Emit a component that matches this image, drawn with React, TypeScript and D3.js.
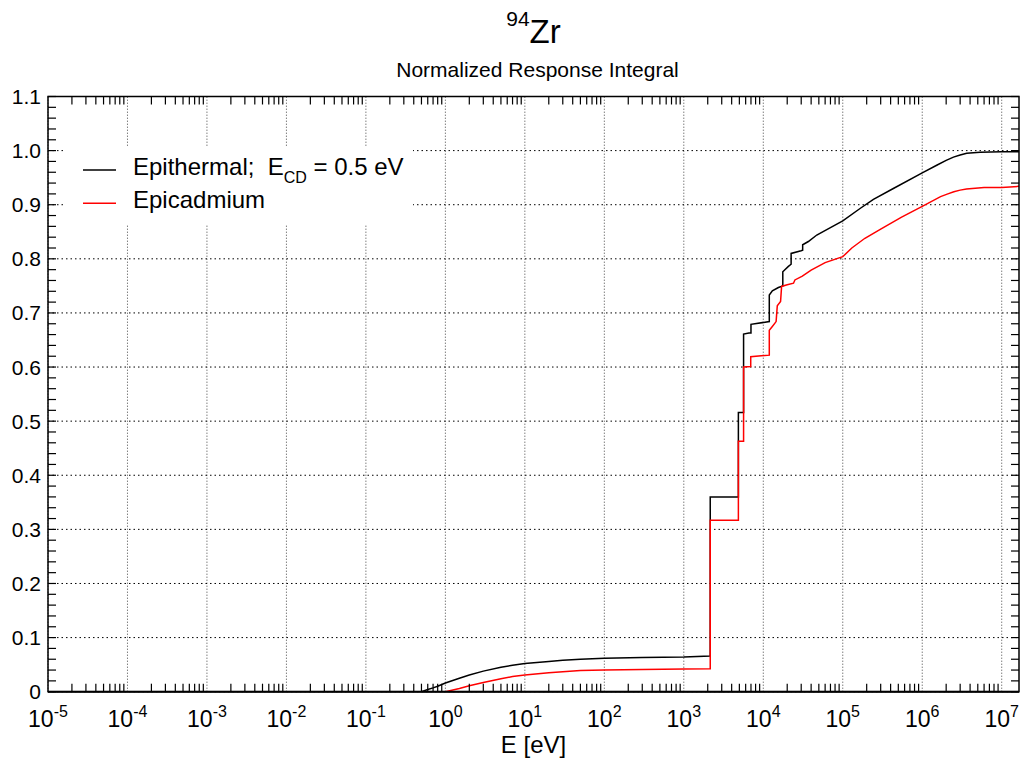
import React from "react";
import * as d3 from "d3";

// ---- data ----
const epithermalE = [0.5, 0.6, 0.7, 0.8, 1, 1.5, 2, 3, 5, 7, 10, 20, 30, 50, 100, 300, 1000, 2150, 2150, 4860, 4860, 5650, 5650, 6600, 7000, 7000, 11900, 11900, 13000, 15500, 17600, 17600, 20700, 22400, 22400, 29900, 31300, 31300, 36900, 47100, 62900, 100000, 165000, 243000, 433000, 1000000, 1520000, 2000000, 2470000, 3000000, 3630000, 5340000, 10000000, 16500000];
const epithermalR = [0, 0.004, 0.007, 0.010, 0.016, 0.025, 0.031, 0.038, 0.045, 0.049, 0.052, 0.056, 0.058, 0.060, 0.062, 0.063, 0.064, 0.066, 0.360, 0.360, 0.516, 0.516, 0.661, 0.663, 0.663, 0.679, 0.684, 0.733, 0.741, 0.747, 0.750, 0.776, 0.786, 0.790, 0.810, 0.815, 0.816, 0.826, 0.832, 0.844, 0.854, 0.870, 0.893, 0.910, 0.930, 0.959, 0.973, 0.982, 0.988, 0.992, 0.995, 0.997, 0.998, 0.998];

const epicadmiumE = [1, 1.5, 2, 3, 5, 7, 10, 20, 30, 50, 100, 300, 1000, 2150, 2150, 4860, 4860, 5650, 5650, 6950, 6950, 11900, 11900, 13000, 14500, 15000, 16500, 17000, 20000, 24000, 25000, 31000, 40000, 60000, 100000, 130000, 190000, 300000, 550000, 1000000, 1700000, 2100000, 2500000, 3000000, 3600000, 6000000, 10000000, 16500000];
const epicadmiumR = [0, 0.006, 0.011, 0.017, 0.024, 0.028, 0.031, 0.035, 0.037, 0.039, 0.040, 0.041, 0.042, 0.0425, 0.317, 0.317, 0.463, 0.463, 0.600, 0.601, 0.619, 0.622, 0.668, 0.675, 0.684, 0.713, 0.721, 0.749, 0.752, 0.755, 0.761, 0.768, 0.779, 0.793, 0.804, 0.820, 0.838, 0.855, 0.877, 0.897, 0.915, 0.920, 0.924, 0.927, 0.929, 0.932, 0.932, 0.934];

const xExponents = [-5, -4, -3, -2, -1, 0, 1, 2, 3, 4, 5, 6, 7];
const yTicks = [0, 0.1, 0.2, 0.3, 0.4, 0.5, 0.6, 0.7, 0.8, 0.9, 1.0, 1.1];
const yTickLabels = ["0", "0.1", "0.2", "0.3", "0.4", "0.5", "0.6", "0.7", "0.8", "0.9", "1.0", "1.1"];

const FONT = "'Liberation Sans', Arial, Helvetica, sans-serif";

export default function App() {
  const W = 1021, H = 765;
  const L = 48, R = 1019, T = 96.5, B = 691.7;
  const x = d3.scaleLog().domain([1e-5, 1.65e7]).range([L, R]);
  const y = d3.scaleLinear().domain([0, 1.1]).range([B, T]);

  const line = d3
    .line<[number, number]>()
    .x((d) => x(d[0]))
    .y((d) => y(d[1]));

  const epiPts = epithermalE.map((e, i) => [e, epithermalR[i]] as [number, number]);
  const cdPts = epicadmiumE.map((e, i) => [e, epicadmiumR[i]] as [number, number]);

  const minorX: number[] = [];
  for (const p of xExponents) {
    for (let k = 2; k <= 9; k++) {
      const v = k * Math.pow(10, p);
      if (v < 1.65e7) minorX.push(v);
    }
  }
  const minorY: number[] = d3.range(0, 56).map((i) => i * 0.02).filter((v) => v <= 1.1001);

  const tickLen = 8;

  return (
    <svg
      width={W}
      height={H}
      style={{ position: "absolute", left: 0, top: 0, background: "#fff" }}
      fontFamily={FONT}
    >
      <rect x={0} y={0} width={W} height={H} fill="#fff" />
      <defs>
        <clipPath id="plot">
          <rect x={L} y={T} width={R - L} height={B - T} />
        </clipPath>
      </defs>

      {/* grid */}
      <g>
        {xExponents.map((p) => (
          <line
            key={"gx" + p}
            x1={x(Math.pow(10, p))}
            x2={x(Math.pow(10, p))}
            y1={B}
            y2={T}
            stroke="#444"
            strokeWidth={1}
            strokeDasharray="1,2"
          />
        ))}
        {yTicks.map((v) => (
          <line
            key={"gy" + v}
            x1={L}
            x2={R}
            y1={y(v)}
            y2={y(v)}
            stroke="#000"
            strokeWidth={1}
            strokeDasharray="1.5,3"
          />
        ))}
      </g>

      {/* legend background */}
      <rect x={66} y={146} width={347} height={78} fill="#fff" />

      {/* data */}
      <g clipPath="url(#plot)" fill="none" strokeWidth={1.5} strokeLinejoin="miter">
        <path d={line(epiPts) || ""} stroke="#000" />
        <path d={line(cdPts) || ""} stroke="#ff0000" />
      </g>

      {/* ticks */}
      <g stroke="#000" strokeWidth={1.2}>
        {minorX.map((v, i) => (
          <g key={"mx" + i}>
            <line x1={x(v)} x2={x(v)} y1={B} y2={B - tickLen} />
            <line x1={x(v)} x2={x(v)} y1={T} y2={T + tickLen} />
          </g>
        ))}
        {minorY.map((v, i) => (
          <g key={"my" + i}>
            <line x1={L} x2={L + tickLen} y1={y(v)} y2={y(v)} />
            <line x1={R} x2={R - tickLen} y1={y(v)} y2={y(v)} />
          </g>
        ))}
      </g>

      {/* frame */}
      <rect x={L} y={T} width={R - L} height={B - T} fill="none" stroke="#000" strokeWidth={1.5} />
      <line x1={L} x2={R} y1={B} y2={B} stroke="#000" strokeWidth={2} />

      {/* y labels */}
      {yTicks.map((v, i) => (
        <text key={"yl" + v} x={41} y={y(v) + 7.5} textAnchor="end" fontSize={21} fill="#000">
          {yTickLabels[i]}
        </text>
      ))}

      {/* x labels */}
      {xExponents.map((p) => (
        <text key={"xl" + p} x={x(Math.pow(10, p))} y={727} textAnchor="middle" fontSize={23} fill="#000">
          10
          <tspan dy={-10} fontSize={16}>
            {p}
          </tspan>
        </text>
      ))}

      {/* axis title */}
      <text x={(L + R) / 2} y={753} textAnchor="middle" fontSize={24} fill="#000">
        E [eV]
      </text>

      {/* titles */}
      <text x={533.5} y={43} textAnchor="middle" fill="#000">
        <tspan fontSize={21} dy={-17}>
          94
        </tspan>
        <tspan fontSize={33} dy={17}>
          Zr
        </tspan>
      </text>
      <text x={537.5} y={77} textAnchor="middle" fontSize={21} fill="#000">
        Normalized Response Integral
      </text>

      {/* legend */}
      <line x1={83} x2={116} y1={170} y2={170} stroke="#000" strokeWidth={1.5} />
      <line x1={83} x2={116} y1={203.3} y2={203.3} stroke="#ff0000" strokeWidth={1.5} />
      <text x={133} y={175} fontSize={24} fill="#000" style={{ whiteSpace: "pre" }}>
        {"Epithermal;  E"}
        <tspan dy={8} fontSize={16}>
          CD
        </tspan>
        <tspan dy={-8}>{" = 0.5 eV"}</tspan>
      </text>
      <text x={133} y={208} fontSize={24} fill="#000">
        Epicadmium
      </text>
    </svg>
  );
}
